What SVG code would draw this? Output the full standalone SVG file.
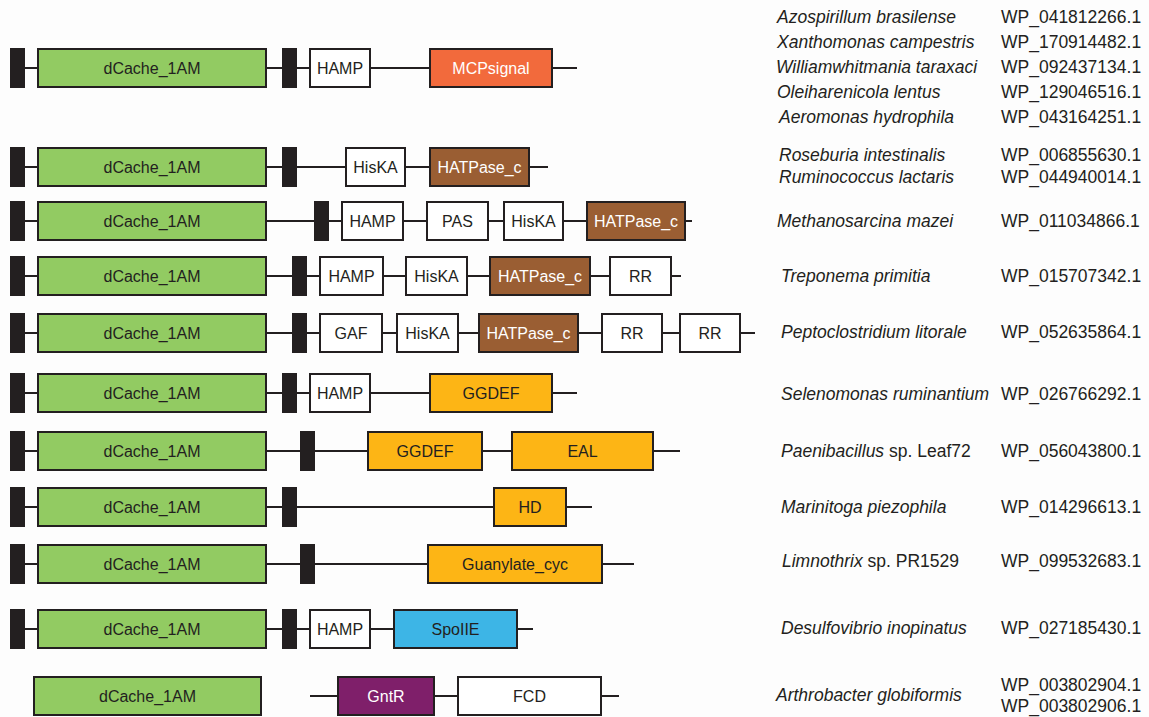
<svg xmlns="http://www.w3.org/2000/svg" width="1149" height="717" viewBox="0 0 1149 717">
<style>
.bg{fill:#fdfdfd}
.ln{stroke:#231f20;stroke-width:2;fill:none}
.tm{fill:#231f20}
.d{stroke:#231f20;stroke-width:2}
.gr{fill:#92cb62}
.wh{fill:#ffffff}
.mcp{fill:#f26a3c}
.br{fill:#9a5e33}
.or{fill:#fdb515}
.bl{fill:#3db5e6}
.pu{fill:#7f1f6a}
text{font-family:"Liberation Sans",Arial,sans-serif}
.t{font-size:16px;text-anchor:middle;fill:#231f20}
.tw{font-size:16px;text-anchor:middle;fill:#ffffff}
.sp{font-size:17.5px;font-style:italic;fill:#231f20}
.ac{font-size:17.5px;fill:#231f20}
.rom{font-style:normal}
</style>
<rect class="bg" x="0" y="0" width="1149" height="717"/>
<g id="connectors">
<line class="ln" x1="20" y1="68" x2="577" y2="68"/>
<line class="ln" x1="20" y1="167" x2="548" y2="167"/>
<line class="ln" x1="20" y1="221" x2="692" y2="221"/>
<line class="ln" x1="20" y1="276" x2="681" y2="276"/>
<line class="ln" x1="20" y1="333" x2="755" y2="333"/>
<line class="ln" x1="20" y1="393" x2="577" y2="393"/>
<line class="ln" x1="20" y1="451" x2="680" y2="451"/>
<line class="ln" x1="20" y1="507" x2="592" y2="507"/>
<line class="ln" x1="20" y1="564" x2="634" y2="564"/>
<line class="ln" x1="20" y1="629" x2="533" y2="629"/>
<line class="ln" x1="310" y1="696" x2="619" y2="696"/>
</g>
<g id="row1">
<rect id="r1-tm1" class="tm" x="10" y="48" width="15" height="40"/>
<g id="r1-dcache"><rect class="d gr" x="38" y="49" width="228" height="38"/><text class="t" x="152" y="74">dCache_1AM</text></g>
<rect id="r1-tm2" class="tm" x="282" y="48" width="15" height="40"/>
<g id="r1-hamp"><rect class="d wh" x="310" y="49" width="60" height="38"/><text class="t" x="340" y="74">HAMP</text></g>
<g id="r1-mcp"><rect class="d mcp" x="430" y="49" width="122" height="38"/><text class="tw" x="491" y="74">MCPsignal</text></g>
</g>
<g id="row2">
<rect id="r2-tm1" class="tm" x="10" y="147" width="15" height="40"/>
<g id="r2-dcache"><rect class="d gr" x="38" y="148" width="228" height="38"/><text class="t" x="152" y="173">dCache_1AM</text></g>
<rect id="r2-tm2" class="tm" x="282" y="147" width="15" height="40"/>
<g id="r2-hiska"><rect class="d wh" x="346" y="148" width="59" height="38"/><text class="t" x="375.5" y="173">HisKA</text></g>
<g id="r2-hatpase"><rect class="d br" x="430" y="148" width="99" height="38"/><text class="tw" x="479.5" y="173">HATPase_c</text></g>
</g>
<g id="row3">
<rect id="r3-tm1" class="tm" x="10" y="201" width="15" height="40"/>
<g id="r3-dcache"><rect class="d gr" x="38" y="202" width="228" height="38"/><text class="t" x="152" y="227">dCache_1AM</text></g>
<rect id="r3-tm2" class="tm" x="314" y="201" width="15" height="40"/>
<g id="r3-hamp"><rect class="d wh" x="342" y="202" width="61" height="38"/><text class="t" x="372.5" y="227">HAMP</text></g>
<g id="r3-pas"><rect class="d wh" x="427" y="202" width="61" height="38"/><text class="t" x="457.5" y="227">PAS</text></g>
<g id="r3-hiska"><rect class="d wh" x="504" y="202" width="59" height="38"/><text class="t" x="533.5" y="227">HisKA</text></g>
<g id="r3-hatpase"><rect class="d br" x="587" y="202" width="98" height="38"/><text class="tw" x="636" y="227">HATPase_c</text></g>
</g>
<g id="row4">
<rect id="r4-tm1" class="tm" x="10" y="256" width="15" height="40"/>
<g id="r4-dcache"><rect class="d gr" x="38" y="257" width="228" height="38"/><text class="t" x="152" y="282">dCache_1AM</text></g>
<rect id="r4-tm2" class="tm" x="292" y="256" width="15" height="40"/>
<g id="r4-hamp"><rect class="d wh" x="320" y="257" width="63" height="38"/><text class="t" x="351.5" y="282">HAMP</text></g>
<g id="r4-hiska"><rect class="d wh" x="406" y="257" width="61" height="38"/><text class="t" x="436.5" y="282">HisKA</text></g>
<g id="r4-hatpase"><rect class="d br" x="490" y="257" width="100" height="38"/><text class="tw" x="540" y="282">HATPase_c</text></g>
<g id="r4-rr"><rect class="d wh" x="610" y="257" width="61" height="38"/><text class="t" x="640.5" y="282">RR</text></g>
</g>
<g id="row5">
<rect id="r5-tm1" class="tm" x="10" y="313" width="15" height="40"/>
<g id="r5-dcache"><rect class="d gr" x="38" y="314" width="228" height="38"/><text class="t" x="152" y="339">dCache_1AM</text></g>
<rect id="r5-tm2" class="tm" x="292" y="313" width="15" height="40"/>
<g id="r5-gaf"><rect class="d wh" x="320" y="314" width="62" height="38"/><text class="t" x="351" y="339">GAF</text></g>
<g id="r5-hiska"><rect class="d wh" x="397" y="314" width="61" height="38"/><text class="t" x="427.5" y="339">HisKA</text></g>
<g id="r5-hatpase"><rect class="d br" x="479" y="314" width="99" height="38"/><text class="tw" x="528.5" y="339">HATPase_c</text></g>
<g id="r5-rr1"><rect class="d wh" x="602" y="314" width="60" height="38"/><text class="t" x="632" y="339">RR</text></g>
<g id="r5-rr2"><rect class="d wh" x="680" y="314" width="60" height="38"/><text class="t" x="710" y="339">RR</text></g>
</g>
<g id="row6">
<rect id="r6-tm1" class="tm" x="10" y="373" width="15" height="40"/>
<g id="r6-dcache"><rect class="d gr" x="38" y="374" width="228" height="38"/><text class="t" x="152" y="399">dCache_1AM</text></g>
<rect id="r6-tm2" class="tm" x="282" y="373" width="15" height="40"/>
<g id="r6-hamp"><rect class="d wh" x="310" y="374" width="60" height="38"/><text class="t" x="340" y="399">HAMP</text></g>
<g id="r6-ggdef"><rect class="d or" x="430" y="374" width="122" height="38"/><text class="t" x="491" y="399">GGDEF</text></g>
</g>
<g id="row7">
<rect id="r7-tm1" class="tm" x="10" y="431" width="15" height="40"/>
<g id="r7-dcache"><rect class="d gr" x="38" y="432" width="228" height="38"/><text class="t" x="152" y="457">dCache_1AM</text></g>
<rect id="r7-tm2" class="tm" x="300" y="431" width="15" height="40"/>
<g id="r7-ggdef"><rect class="d or" x="368" y="432" width="114" height="38"/><text class="t" x="425" y="457">GGDEF</text></g>
<g id="r7-eal"><rect class="d or" x="512" y="432" width="141" height="38"/><text class="t" x="582.5" y="457">EAL</text></g>
</g>
<g id="row8">
<rect id="r8-tm1" class="tm" x="10" y="487" width="15" height="40"/>
<g id="r8-dcache"><rect class="d gr" x="38" y="488" width="228" height="38"/><text class="t" x="152" y="513">dCache_1AM</text></g>
<rect id="r8-tm2" class="tm" x="282" y="487" width="15" height="40"/>
<g id="r8-hd"><rect class="d or" x="494" y="488" width="72" height="38"/><text class="t" x="530" y="513">HD</text></g>
</g>
<g id="row9">
<rect id="r9-tm1" class="tm" x="10" y="544" width="15" height="40"/>
<g id="r9-dcache"><rect class="d gr" x="38" y="545" width="228" height="38"/><text class="t" x="152" y="570">dCache_1AM</text></g>
<rect id="r9-tm2" class="tm" x="300" y="544" width="15" height="40"/>
<g id="r9-guan"><rect class="d or" x="428" y="545" width="174" height="38"/><text class="t" x="515" y="570">Guanylate_cyc</text></g>
</g>
<g id="row10">
<rect id="r10-tm1" class="tm" x="10" y="609" width="15" height="40"/>
<g id="r10-dcache"><rect class="d gr" x="38" y="610" width="228" height="38"/><text class="t" x="152" y="635">dCache_1AM</text></g>
<rect id="r10-tm2" class="tm" x="282" y="609" width="15" height="40"/>
<g id="r10-hamp"><rect class="d wh" x="310" y="610" width="60" height="38"/><text class="t" x="340" y="635">HAMP</text></g>
<g id="r10-spoiie"><rect class="d bl" x="394" y="610" width="123" height="38"/><text class="t" x="455.5" y="635">SpoIIE</text></g>
</g>
<g id="row11">
<g id="r11-dcache"><rect class="d gr" x="34" y="677" width="227" height="38"/><text class="t" x="147.5" y="702">dCache_1AM</text></g>
<g id="r11-gntr"><rect class="d pu" x="338" y="677" width="96" height="38"/><text class="tw" x="386" y="702">GntR</text></g>
<g id="r11-fcd"><rect class="d wh" x="458" y="677" width="143" height="38"/><text class="t" x="529.5" y="702">FCD</text></g>
</g>
<g id="labels">
<text class="sp" x="777" y="23">Azospirillum brasilense</text>
<text class="sp" x="777" y="48">Xanthomonas campestris</text>
<text class="sp" x="776" y="73">Williamwhitmania taraxaci</text>
<text class="sp" x="777" y="98">Oleiharenicola lentus</text>
<text class="sp" x="779" y="123">Aeromonas hydrophila</text>
<text class="sp" x="779" y="161">Roseburia intestinalis</text>
<text class="sp" x="779" y="183">Ruminococcus lactaris</text>
<text class="sp" x="777" y="227">Methanosarcina mazei</text>
<text class="sp" x="781" y="282">Treponema primitia</text>
<text class="sp" x="781" y="338">Peptoclostridium litorale</text>
<text class="sp" x="781" y="400">Selenomonas ruminantium</text>
<text class="sp" x="781" y="457">Paenibacillus<tspan class="rom"> sp. Leaf72</tspan></text>
<text class="sp" x="781" y="513">Marinitoga piezophila</text>
<text class="sp" x="782" y="567">Limnothrix<tspan class="rom"> sp. PR1529</tspan></text>
<text class="sp" x="781" y="634">Desulfovibrio inopinatus</text>
<text class="sp" x="776" y="701">Arthrobacter globiformis</text>
<text class="ac" x="1001" y="23">WP_041812266.1</text>
<text class="ac" x="1001" y="48">WP_170914482.1</text>
<text class="ac" x="1001" y="73">WP_092437134.1</text>
<text class="ac" x="1001" y="98">WP_129046516.1</text>
<text class="ac" x="1001" y="123">WP_043164251.1</text>
<text class="ac" x="1001" y="161">WP_006855630.1</text>
<text class="ac" x="1001" y="183">WP_044940014.1</text>
<text class="ac" x="1001" y="227">WP_011034866.1</text>
<text class="ac" x="1001" y="282">WP_015707342.1</text>
<text class="ac" x="1001" y="338">WP_052635864.1</text>
<text class="ac" x="1001" y="400">WP_026766292.1</text>
<text class="ac" x="1001" y="457">WP_056043800.1</text>
<text class="ac" x="1001" y="513">WP_014296613.1</text>
<text class="ac" x="1001" y="567">WP_099532683.1</text>
<text class="ac" x="1001" y="634">WP_027185430.1</text>
<text class="ac" x="1001" y="691">WP_003802904.1</text>
<text class="ac" x="1001" y="712">WP_003802906.1</text>
</g>
</svg>
